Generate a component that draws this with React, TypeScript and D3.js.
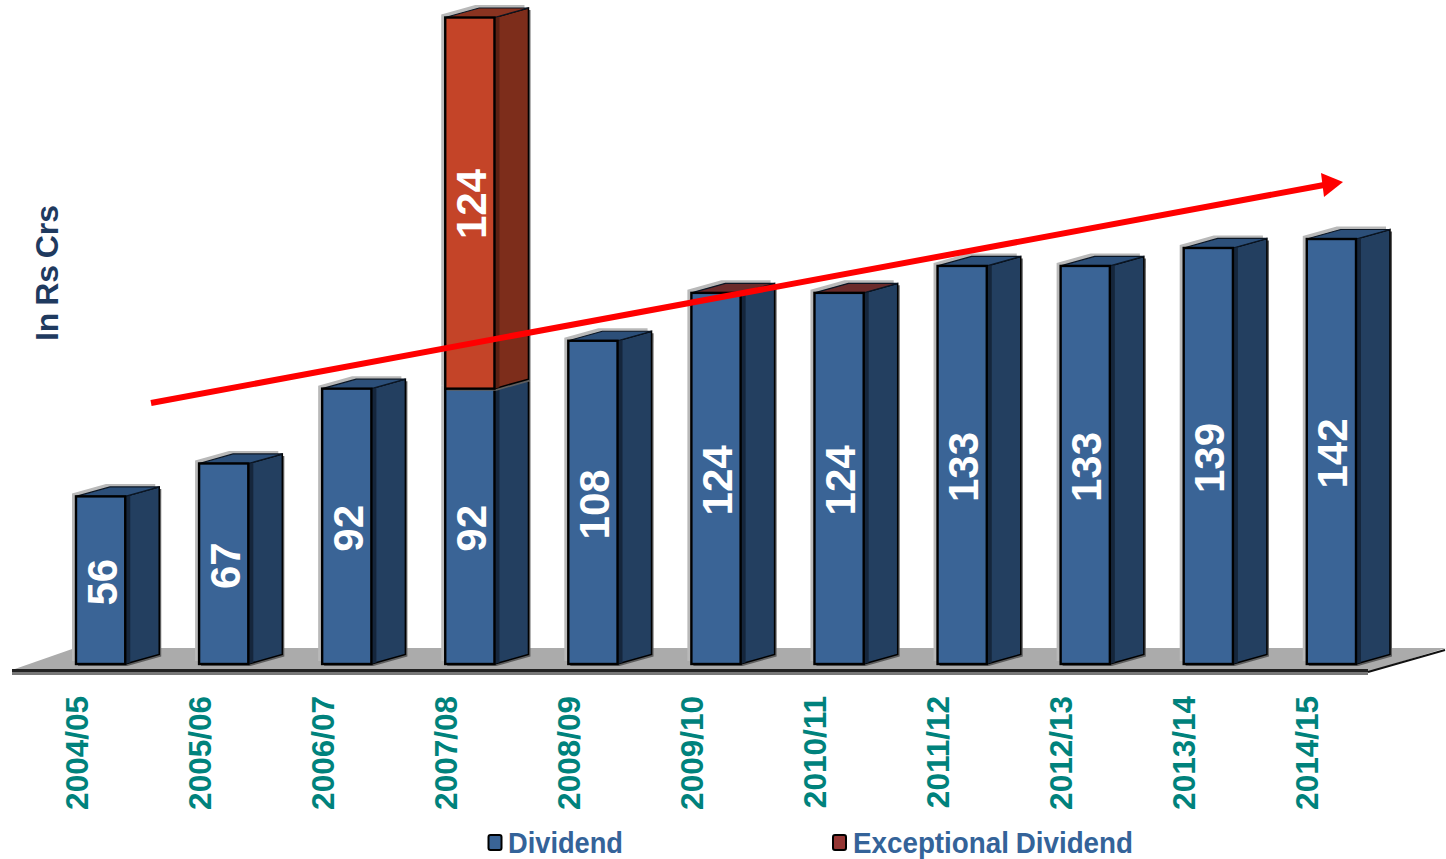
import * as d3 from 'd3'

const years = ['2004/05', '2005/06', '2006/07', '2007/08', '2008/09', '2009/10', '2010/11', '2011/12', '2012/13', '2013/14', '2014/15']
const dividend = [56, 67, 92, 92, 108, 124, 124, 133, 133, 139, 142]
// zero means the series is there but only tints the top face of the bar
const exceptional = [null, null, null, 124, null, 0, 0, null, null, null, null]

const width = 1446
const height = 859
const baseY = 664
const depthX = 34
const depthY = -9.5
const font = '"Liberation Sans", Arial, sans-serif'

const blue = { front: '#3a6496', side: '#233f60', top: '#2c4f79', edge: '#15263c' }
const red = { front: '#c44428', side: '#7d2d1b', top: '#8a3320', edge: '#5a2012' }

const x = d3.scaleBand<string>().domain(years).range([76, 1356]).paddingInner(0.6).paddingOuter(0)
const y = d3.scaleLinear().domain([0, 100]).range([baseY, baseY - 299.3])
const poly = d3.line().curve(d3.curveLinearClosed)

function Box({ x0, w, y0, y1, colors, topFill }: { x0: number; w: number; y0: number; y1: number; colors: typeof blue; topFill: string }) {
  const x1 = x0 + w
  const hull: [number, number][] = [
    [x0, y0],
    [x0, y1],
    [x0 + depthX, y1 + depthY],
    [x1 + depthX, y1 + depthY],
    [x1 + depthX, y0 + depthY],
    [x1, y0],
  ]
  const side: [number, number][] = [[x1, y0], [x1, y1], [x1 + depthX, y1 + depthY], [x1 + depthX, y0 + depthY]]
  const edge: [number, number][] = [[x1, y0], [x1, y1], [x1 + 5, y1 - 1.4], [x1 + 5, y0 - 1.4]]
  const top: [number, number][] = [[x0, y1], [x0 + depthX, y1 + depthY], [x1 + depthX, y1 + depthY], [x1, y1]]
  return (
    <g>
      <path d={poly(hull)!} transform="translate(-4,-3)" fill="#b9b9b9" />
      <path d={poly(hull)!} transform="translate(2,2)" fill="#5e5e5e" />
      <path d={poly(side)!} fill={colors.side} stroke="#000" strokeWidth={1.5} />
      <path d={poly(edge)!} fill={colors.edge} />
      <path d={poly(top)!} fill={topFill} stroke="#0b1624" strokeWidth={1.2} />
      <rect x={x0} y={y1} width={w} height={y0 - y1} fill={colors.front} stroke="#000" strokeWidth={2.4} />
    </g>
  )
}

function BarLabel({ cx, cy, text }: { cx: number; cy: number; text: number }) {
  return (
    <text
      transform={`translate(${cx + 16},${cy}) rotate(-90)`}
      textAnchor="middle"
      fontFamily={font}
      fontWeight="bold"
      fontSize={42}
      fill="#fff"
    >
      {text}
    </text>
  )
}

export default function App() {
  const bw = x.bandwidth()
  return (
    <svg width={width} height={height} style={{ position: 'absolute', left: 0, top: 0, display: 'block', background: '#fff' }}>
      {/* floor */}
      <path d={poly([[12, 670], [75, 648], [1446, 648], [1368, 672]])!} fill="#ababab" />
      <rect x={12} y={672} width={1356} height={3} fill="#777" />
      <rect x={12} y={669} width={1356} height={3} fill="#222" />
      <line x1={1368} y1={672} x2={1445} y2={650} stroke="#111" strokeWidth={2} />

      {years.map((yr, i) => {
        const x0 = x(yr)!
        const extra = exceptional[i]
        const topY = y(dividend[i])
        return (
          <g key={yr}>
            <Box x0={x0} w={bw} y0={baseY} y1={topY} colors={blue} topFill={extra === 0 ? '#6b2b2b' : blue.top} />
            {extra ? <Box x0={x0} w={bw} y0={topY} y1={y(dividend[i] + extra)} colors={red} topFill={red.top} /> : null}
          </g>
        )
      })}

      {/* trend arrow */}
      <line x1={151} y1={403} x2={1324} y2={185} stroke="#ff0000" strokeWidth={6} />
      <path d={poly([[1321, 173], [1343, 182], [1324, 197]])!} fill="#ff0000" />

      {years.map((yr, i) => {
        const x0 = x(yr)!
        const extra = exceptional[i]
        const topY = y(dividend[i])
        return (
          <g key={yr}>
            <BarLabel cx={x0 + bw / 2} cy={(baseY + topY) / 2 + 2} text={dividend[i]} />
            {extra ? <BarLabel cx={x0 + bw / 2} cy={(topY + y(dividend[i] + extra)) / 2 + 1} text={extra} /> : null}
            <text
              transform={`translate(${x0 + 11.5},696) rotate(-90)`}
              textAnchor="end"
              fontFamily={font}
              fontWeight="bold"
              fontSize={31.5}
              fill="#00827c"
            >
              {yr}
            </text>
          </g>
        )
      })}

      {/* axis title */}
      <text
        transform="translate(58,341) rotate(-90)"
        fontFamily={font}
        fontWeight="bold"
        fontSize={31}
        fill="#1f3a5f"
        wordSpacing={-2}
        textLength={136}
        lengthAdjust="spacingAndGlyphs"
      >
        In Rs Crs
      </text>

      {/* legend */}
      <rect x={488.5} y={835} width={13} height={15} rx={2} fill={blue.front} stroke="#000" strokeWidth={2} />
      <text x={508} y={853} fontFamily={font} fontWeight="bold" fontSize={29} fill="#346399" textLength={115} lengthAdjust="spacingAndGlyphs">
        Dividend
      </text>
      <rect x={833} y={835} width={13} height={15} rx={2} fill="#943634" stroke="#000" strokeWidth={2} />
      <text x={853} y={853} fontFamily={font} fontWeight="bold" fontSize={29} fill="#346399" wordSpacing={-1} textLength={280} lengthAdjust="spacingAndGlyphs">
        Exceptional Dividend
      </text>
    </svg>
  )
}
